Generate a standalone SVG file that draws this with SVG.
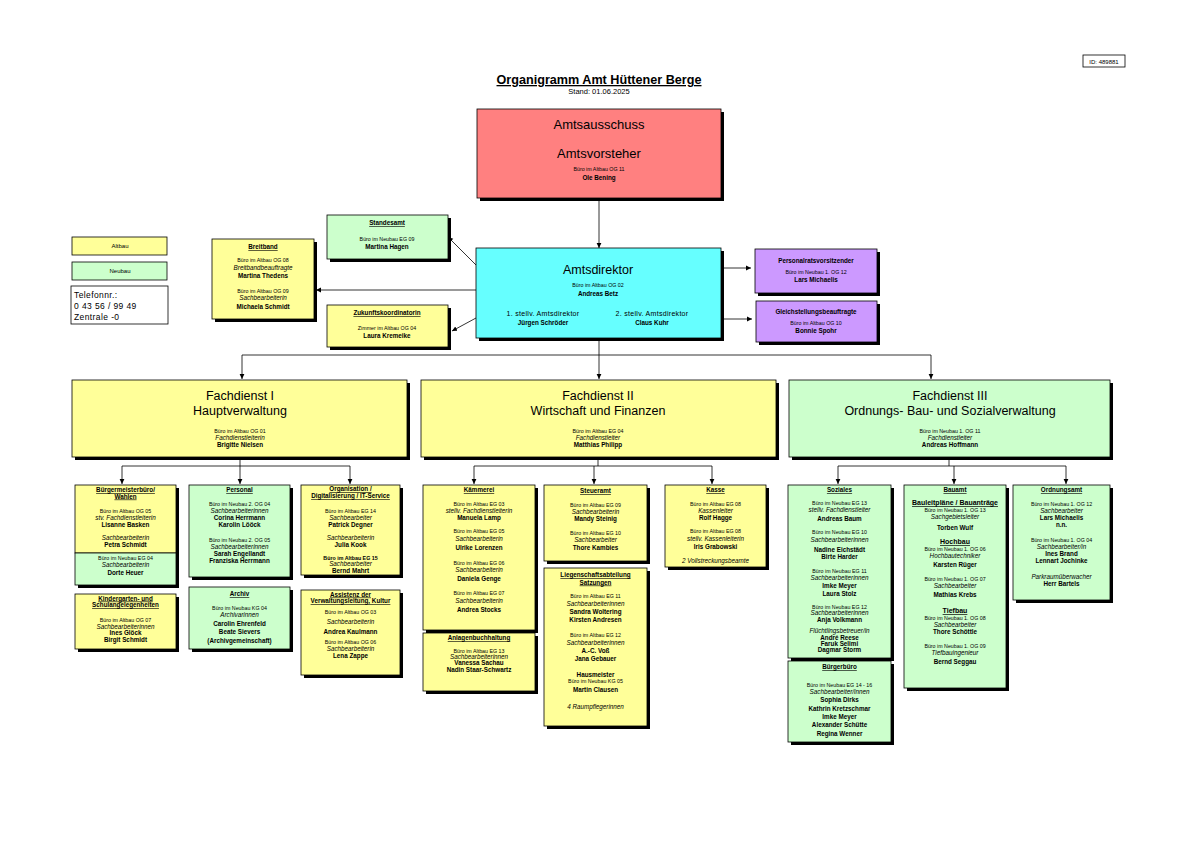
<svg xmlns="http://www.w3.org/2000/svg" width="1191" height="842" viewBox="0 0 1191 842">
<style>
text{font-family:"Liberation Sans",Arial,sans-serif;fill:#000;text-anchor:middle}
.s{font-size:5.3px}
.i{font-size:6.3px;font-style:italic}
.n{font-size:6.3px;font-weight:bold}
.h{font-size:6.3px;font-weight:bold;text-decoration:underline}
.h7{font-size:7px;font-weight:bold;text-decoration:underline}
.big{font-size:13px}
.fd{font-size:12.5px}
.st{font-size:7px;letter-spacing:0.3px}
.tel{font-size:8.5px;letter-spacing:0.4px;text-anchor:start}
.sh{fill:#000}
.bx{stroke:#000;stroke-width:0.8}
.y{fill:#FFFF99}
.g{fill:#CCFFCC}
.c{stroke:#000;stroke-width:0.8;fill:none}
.a{marker-end:url(#ah)}
</style>
<defs>
<marker id="ah" markerWidth="6" markerHeight="6" refX="5" refY="3" orient="auto" markerUnits="userSpaceOnUse"><path d="M0,0.6 L5,3 L0,5.4 z" fill="#000"/></marker>
</defs>
<rect width="1191" height="842" fill="#fff"/>

<g id="header">
<text x="599" y="84" font-size="13" font-weight="bold" text-decoration="underline" textLength="205" lengthAdjust="spacingAndGlyphs">Organigramm Amt Hüttener Berge</text>
<text x="599" y="94" font-size="7.5">Stand: 01.06.2025</text>
<rect x="1083" y="55" width="42" height="12" fill="#fff" stroke="#000" stroke-width="0.8"/>
<text x="1104" y="63.5" font-size="6">ID: 489881</text>
</g>

<g id="legend">
<rect x="72" y="237" width="95" height="18" class="y bx"/>
<text x="120" y="248" font-size="6">Altbau</text>
<rect x="72" y="262" width="95" height="18" class="g bx"/>
<text x="120" y="273" font-size="6">Neubau</text>
<rect x="71" y="286" width="97" height="38" fill="#fff" class="bx"/>
<text x="74" y="298" class="tel">Telefonnr.:</text>
<text x="74" y="309" class="tel">0 43 56 / 99 49</text>
<text x="74" y="320" class="tel">Zentrale -0</text>
</g>

<g id="connectors">
<line x1="599" y1="198" x2="599" y2="248" class="c a"/>
<line x1="721" y1="268" x2="751" y2="268" class="c a"/>
<line x1="721" y1="319" x2="752" y2="319" class="c a"/>
<line x1="476" y1="290" x2="316" y2="290" class="c a"/>
<line x1="476" y1="265" x2="448" y2="237" class="c a"/>
<line x1="476" y1="318" x2="452" y2="331" class="c a"/>
<line x1="599" y1="338" x2="599" y2="355" class="c"/>
<line x1="242" y1="355" x2="931" y2="355" class="c"/>
<line x1="242" y1="355" x2="242" y2="379" class="c a"/>
<line x1="599" y1="355" x2="599" y2="379" class="c a"/>
<line x1="931" y1="355" x2="931" y2="379" class="c a"/>
<line x1="240" y1="457" x2="240" y2="466" class="c"/>
<line x1="122" y1="466" x2="350" y2="466" class="c"/>
<line x1="122" y1="466" x2="122" y2="484" class="c a"/>
<line x1="240" y1="466" x2="240" y2="484" class="c a"/>
<line x1="350" y1="466" x2="350" y2="484" class="c a"/>
<line x1="598" y1="457" x2="598" y2="466" class="c"/>
<line x1="474" y1="466" x2="712" y2="466" class="c"/>
<line x1="474" y1="466" x2="474" y2="484" class="c a"/>
<line x1="594" y1="466" x2="594" y2="484" class="c a"/>
<line x1="712" y1="466" x2="712" y2="484" class="c a"/>
<line x1="949" y1="457" x2="949" y2="466" class="c"/>
<line x1="838" y1="466" x2="1066" y2="466" class="c"/>
<line x1="838" y1="466" x2="838" y2="484" class="c a"/>
<line x1="954" y1="466" x2="954" y2="484" class="c a"/>
<line x1="1066" y1="466" x2="1066" y2="484" class="c a"/>
</g>

<g id="amtsausschuss">
<rect x="480" y="112" width="244" height="89" class="sh"/>
<rect x="477" y="109" width="244" height="89" fill="#FF8080" class="bx"/>
<text x="599" y="129" class="big">Amtsausschuss</text>
<text x="599" y="158" class="big">Amtsvorsteher</text>
<text x="599" y="171" class="s">Büro im Altbau OG 11</text>
<text x="599" y="180" class="n">Ole Bening</text>
</g>

<g id="amtsdirektor">
<rect x="479" y="251" width="245" height="90" class="sh"/>
<rect x="476" y="248" width="245" height="90" fill="#66FFFF" class="bx"/>
<text x="598" y="274" class="fd">Amtsdirektor</text>
<text x="598" y="287" class="s">Büro im Altbau OG 02</text>
<text x="598" y="296" class="n">Andreas Betz</text>
<text x="543" y="316" class="st">1. stellv. Amtsdirektor</text>
<text x="543" y="325" class="n">Jürgen Schröder</text>
<text x="652" y="316" class="st">2. stellv. Amtsdirektor</text>
<text x="652" y="325" class="n">Claus Kuhr</text>
</g>

<g id="standesamt">
<rect x="330" y="218" width="121" height="44" class="sh"/>
<rect x="327" y="215" width="121" height="44" class="g bx"/>
<text x="387" y="225" class="h">Standesamt</text>
<text x="387" y="241" class="s">Büro im Neubau EG 09</text>
<text x="387" y="249" class="n">Martina Hagen</text>
</g>

<g id="breitband">
<rect x="215" y="242" width="102" height="80" class="sh"/>
<rect x="212" y="239" width="102" height="80" class="y bx"/>
<text x="263" y="249" class="h">Breitband</text>
<text x="263" y="262" class="s">Büro im Altbau OG 08</text>
<text x="263" y="270" class="i">Breitbandbeauftragte</text>
<text x="263" y="278" class="n">Martina Thedens</text>
<text x="263" y="293" class="s">Büro im Altbau OG 09</text>
<text x="263" y="300" class="i">Sachbearbeiterin</text>
<text x="263" y="309" class="n">Michaela Schmidt</text>
</g>

<g id="zukunft">
<rect x="330" y="308" width="121" height="42" class="sh"/>
<rect x="327" y="305" width="121" height="42" class="y bx"/>
<text x="387" y="315" class="h">Zukunftskoordinatorin</text>
<text x="387" y="330" class="s">Zimmer im Altbau OG 04</text>
<text x="387" y="338" class="n">Laura Kremeike</text>
</g>

<g id="personalrat">
<rect x="758" y="252" width="122" height="44" class="sh"/>
<rect x="755" y="249" width="122" height="44" fill="#CC99FF" class="bx"/>
<text x="816" y="263" class="n">Personalratsvorsitzender</text>
<text x="816" y="274" class="s">Büro im Neubau 1. OG 12</text>
<text x="816" y="282" class="n">Lars Michaelis</text>
</g>

<g id="gleichstellung">
<rect x="759" y="304" width="121" height="41" class="sh"/>
<rect x="756" y="301" width="121" height="41" fill="#CC99FF" class="bx"/>
<text x="816" y="314" class="n">Gleichstellungsbeauftragte</text>
<text x="816" y="325" class="s">Büro im Altbau OG 10</text>
<text x="816" y="333" class="n">Bonnie Spohr</text>
</g>

<g id="fd1">
<rect x="75" y="383" width="335" height="77" class="sh"/>
<rect x="72" y="380" width="335" height="77" class="y bx"/>
<text x="240" y="400" class="fd">Fachdienst I</text>
<text x="240" y="415" class="fd">Hauptverwaltung</text>
<text x="240" y="433" class="s">Büro im Altbau OG 01</text>
<text x="240" y="439.5" class="i">Fachdienstleiterin</text>
<text x="240" y="447" class="n">Brigitte Nielsen</text>
</g>

<g id="fd2">
<rect x="424" y="383" width="355" height="77" class="sh"/>
<rect x="421" y="380" width="355" height="77" class="y bx"/>
<text x="598" y="400" class="fd">Fachdienst II</text>
<text x="598" y="415" class="fd">Wirtschaft und Finanzen</text>
<text x="598" y="433" class="s">Büro im Altbau EG 04</text>
<text x="598" y="439.5" class="i">Fachdienstleiter</text>
<text x="598" y="447" class="n">Matthias Philipp</text>
</g>

<g id="fd3">
<rect x="792" y="383" width="321" height="77" class="sh"/>
<rect x="789" y="380" width="321" height="77" class="g bx"/>
<text x="950" y="400" class="fd">Fachdienst III</text>
<text x="950" y="415" class="fd">Ordnungs- Bau- und Sozialverwaltung</text>
<text x="950" y="433" class="s">Büro im Neubau 1. OG 11</text>
<text x="950" y="439.5" class="i">Fachdienstleiter</text>
<text x="950" y="447" class="n">Andreas Hoffmann</text>
</g>

<g id="buergermeisterbuero">
<rect x="78" y="488" width="101" height="100" class="sh"/>
<rect x="75" y="485" width="101" height="68" class="y bx"/>
<rect x="75" y="553" width="101" height="32" class="g bx"/>
<text x="125.5" y="492" class="h">Bürgermeisterbüro/</text>
<text x="125.5" y="498.5" class="h">Wahlen</text>
<text x="125.5" y="513" class="s">Büro im Altbau OG 05</text>
<text x="125.5" y="520" class="i">stv. Fachdienstleiterin</text>
<text x="125.5" y="527" class="n">Lisanne Basken</text>
<text x="125.5" y="540" class="i">Sachbearbeiterin</text>
<text x="125.5" y="547" class="n">Petra Schmidt</text>
<text x="125.5" y="560" class="s">Büro im Neubau EG 04</text>
<text x="125.5" y="567" class="i">Sachbearbeiterin</text>
<text x="125.5" y="574.5" class="n">Dorte Heuer</text>
</g>

<g id="kindergarten">
<rect x="78" y="597" width="101" height="55" class="sh"/>
<rect x="75" y="594" width="101" height="55" class="y bx"/>
<text x="125.5" y="600.5" class="h">Kindergarten- und</text>
<text x="125.5" y="607" class="h">Schulangelegenheiten</text>
<text x="125.5" y="622" class="s">Büro im Altbau OG 07</text>
<text x="125.5" y="629" class="i">Sachbearbeiterinnen</text>
<text x="125.5" y="635" class="n">Ines Glöck</text>
<text x="125.5" y="642" class="n">Birgit Schmidt</text>
</g>

<g id="personal">
<rect x="192" y="488" width="101" height="92" class="sh"/>
<rect x="189" y="485" width="101" height="92" class="g bx"/>
<text x="239.5" y="492" class="h">Personal</text>
<text x="239.5" y="506" class="s">Büro im Neubau 2. OG 04</text>
<text x="239.5" y="513" class="i">Sachbearbeiterinnen</text>
<text x="239.5" y="520" class="n">Corina Herrmann</text>
<text x="239.5" y="527" class="n">Karolin Lööck</text>
<text x="239.5" y="542" class="s">Büro im Neubau 2. OG 05</text>
<text x="239.5" y="549" class="i">Sachbearbeiterinnen</text>
<text x="239.5" y="556" class="n">Sarah Engellandt</text>
<text x="239.5" y="563" class="n">Franziska Herrmann</text>
</g>

<g id="archiv">
<rect x="192" y="590" width="101" height="62" class="sh"/>
<rect x="189" y="587" width="101" height="62" class="g bx"/>
<text x="239.5" y="596" class="h">Archiv</text>
<text x="239.5" y="610" class="s">Büro im Neubau KG 04</text>
<text x="239.5" y="617" class="i">Archivarinnen</text>
<text x="239.5" y="626" class="n">Carolin Ehrenfeld</text>
<text x="239.5" y="634" class="n">Beate Sievers</text>
<text x="239.5" y="643" class="n">(Archivgemeinschaft)</text>
</g>

<g id="organisation">
<rect x="304" y="488" width="99" height="90" class="sh"/>
<rect x="301" y="485" width="99" height="90" class="y bx"/>
<text x="350.5" y="491" class="h">Organisation /</text>
<text x="350.5" y="498" class="h">Digitalisierung / IT-Service</text>
<text x="350.5" y="513" class="s">Büro im Altbau EG 14</text>
<text x="350.5" y="520" class="i">Sachbearbeiter</text>
<text x="350.5" y="527" class="n">Patrick Degner</text>
<text x="350.5" y="540" class="i">Sachbearbeiterin</text>
<text x="350.5" y="547" class="n">Julia Kook</text>
<text x="350.5" y="560" class="s" font-weight="bold">Büro im Altbau EG 15</text>
<text x="350.5" y="566" class="i">Sachbearbeiter</text>
<text x="350.5" y="573" class="n">Bernd Mahrt</text>
</g>

<g id="assistenz">
<rect x="304" y="593" width="99" height="85" class="sh"/>
<rect x="301" y="590" width="99" height="85" class="y bx"/>
<text x="350.5" y="596.5" class="h">Assistenz der</text>
<text x="350.5" y="603" class="h">Verwaltungsleitung, Kultur</text>
<text x="350.5" y="614" class="s">Büro im Altbau OG 03</text>
<text x="350.5" y="624" class="i">Sachbearbeiterin</text>
<text x="350.5" y="634" class="n">Andrea Kaulmann</text>
<text x="350.5" y="644" class="s">Büro im Altbau OG 06</text>
<text x="350.5" y="651" class="i">Sachbearbeiterin</text>
<text x="350.5" y="657.5" class="n">Lena Zappe</text>
</g>

<g id="kaemmerei">
<rect x="426" y="488" width="112" height="145" class="sh"/>
<rect x="423" y="485" width="112" height="145" class="y bx"/>
<text x="479" y="492" class="h">Kämmerei</text>
<text x="479" y="506" class="s">Büro im Altbau EG 03</text>
<text x="479" y="512.5" class="i">stellv. Fachdienstleiterin</text>
<text x="479" y="520" class="n">Manuela Lamp</text>
<text x="479" y="533" class="s">Büro im Altbau EG 05</text>
<text x="479" y="541" class="i">Sachbearbeiterin</text>
<text x="479" y="550" class="n">Ulrike Lorenzen</text>
<text x="479" y="565" class="s">Büro im Altbau EG 06</text>
<text x="479" y="572" class="i">Sachbearbeiterin</text>
<text x="479" y="580.5" class="n">Daniela Genge</text>
<text x="479" y="595" class="s">Büro im Altbau EG 07</text>
<text x="479" y="603" class="i">Sachbearbeiterin</text>
<text x="479" y="611.5" class="n">Andrea Stocks</text>
</g>

<g id="anlagenbuchhaltung">
<rect x="426" y="636" width="112" height="58" class="sh"/>
<rect x="423" y="633" width="112" height="58" class="y bx"/>
<text x="479" y="640" class="h">Anlagenbuchhaltung</text>
<text x="479" y="653" class="s">Büro im Altbau EG 13</text>
<text x="479" y="659" class="i">Sachbearbeiterinnen</text>
<text x="479" y="665" class="n">Vanessa Sachau</text>
<text x="479" y="672" class="n">Nadin Staar-Schwartz</text>
</g>

<g id="steueramt">
<rect x="547" y="488" width="103" height="76" class="sh"/>
<rect x="544" y="485" width="103" height="76" class="y bx"/>
<text x="595.5" y="493" class="h">Steueramt</text>
<text x="595.5" y="507" class="s">Büro im Altbau EG 09</text>
<text x="595.5" y="513.5" class="i">Sachbearbeiterin</text>
<text x="595.5" y="521" class="n">Mandy Steinig</text>
<text x="595.5" y="535" class="s">Büro im Altbau EG 10</text>
<text x="595.5" y="542" class="i">Sachbearbeiter</text>
<text x="595.5" y="549.5" class="n">Thore Kambies</text>
</g>

<g id="liegenschaft">
<rect x="547" y="571" width="103" height="158" class="sh"/>
<rect x="544" y="568" width="103" height="158" class="y bx"/>
<text x="595.5" y="577" class="h">Liegenschaftsabteilung</text>
<text x="595.5" y="584.5" class="h">Satzungen</text>
<text x="595.5" y="598" class="s">Büro im Altbau EG 11</text>
<text x="595.5" y="606" class="i">Sachbearbeiterinnen</text>
<text x="595.5" y="614" class="n">Sandra Woltering</text>
<text x="595.5" y="622" class="n">Kirsten Andresen</text>
<text x="595.5" y="637" class="s">Büro im Altbau EG 12</text>
<text x="595.5" y="644.5" class="i">Sachbearbeiterinnen</text>
<text x="595.5" y="653" class="n">A.-C. Voß</text>
<text x="595.5" y="661" class="n">Jana Gebauer</text>
<text x="595.5" y="677" class="n">Hausmeister</text>
<text x="595.5" y="683" class="s">Büro im Neubau KG 05</text>
<text x="595.5" y="692" class="n">Martin Clausen</text>
<text x="595.5" y="709" class="i">4 Raumpflegerinnen</text>
</g>

<g id="kasse">
<rect x="668" y="488" width="101" height="82" class="sh"/>
<rect x="665" y="485" width="101" height="82" class="y bx"/>
<text x="715.5" y="492" class="h">Kasse</text>
<text x="715.5" y="506" class="s">Büro im Altbau EG 08</text>
<text x="715.5" y="512.5" class="i">Kassenleiter</text>
<text x="715.5" y="520" class="n">Rolf Hagge</text>
<text x="715.5" y="533" class="s">Büro im Altbau EG 08</text>
<text x="715.5" y="541" class="i">stellv. Kassenleiterin</text>
<text x="715.5" y="549" class="n">Iris Grabowski</text>
<text x="715.5" y="563" class="i">2 Vollstreckungsbeamte</text>
</g>

<g id="soziales">
<rect x="791" y="488" width="103" height="173" class="sh"/>
<rect x="788" y="485" width="103" height="173" class="g bx"/>
<text x="839.5" y="492" class="h">Soziales</text>
<text x="839.5" y="505" class="s">Büro im Neubau EG 13</text>
<text x="839.5" y="512" class="i">stellv. Fachdienstleiter</text>
<text x="839.5" y="521" class="n">Andreas Baum</text>
<text x="839.5" y="534" class="s">Büro im Neubau EG 10</text>
<text x="839.5" y="542" class="i">Sachbearbeiterinnen</text>
<text x="839.5" y="552" class="n">Nadine Eichstädt</text>
<text x="839.5" y="559" class="n">Birte Harder</text>
<text x="839.5" y="573" class="s">Büro im Neubau EG 11</text>
<text x="839.5" y="580" class="i">Sachbearbeiterinnen</text>
<text x="839.5" y="588" class="n">Imke Meyer</text>
<text x="839.5" y="596" class="n">Laura Stolz</text>
<text x="839.5" y="608.5" class="s">Büro im Neubau EG 12</text>
<text x="839.5" y="615" class="i">Sachbearbeiterinnen</text>
<text x="839.5" y="621.5" class="n">Anja Volkmann</text>
<text x="839.5" y="633" class="i">Flüchtlingsbetreuer/in</text>
<text x="839.5" y="639.5" class="n">André Reese</text>
<text x="839.5" y="645.5" class="n">Faruk Selimi</text>
<text x="839.5" y="652" class="n">Dagmar Storm</text>
</g>

<g id="buergerbuero">
<rect x="791" y="664" width="103" height="81" class="sh"/>
<rect x="788" y="661" width="103" height="81" class="g bx"/>
<text x="839.5" y="669" class="h">Bürgerbüro</text>
<text x="839.5" y="687" class="s">Büro im Neubau EG 14 - 16</text>
<text x="839.5" y="694" class="i">Sachbearbeiter/innen</text>
<text x="839.5" y="702" class="n">Sophia Dirks</text>
<text x="839.5" y="711" class="n">Kathrin Kretzschmar</text>
<text x="839.5" y="719" class="n">Imke Meyer</text>
<text x="839.5" y="727" class="n">Alexander Schütte</text>
<text x="839.5" y="736" class="n">Regina Wenner</text>
</g>

<g id="bauamt">
<rect x="907" y="488" width="102" height="203" class="sh"/>
<rect x="904" y="485" width="102" height="203" class="g bx"/>
<text x="955" y="492" class="h">Bauamt</text>
<text x="955" y="505" class="h7">Bauleitpläne / Bauanträge</text>
<text x="955" y="512" class="s">Büro im Neubau 1. OG 13</text>
<text x="955" y="518.5" class="i">Sachgebietsleiter</text>
<text x="955" y="530" class="n">Torben Wulf</text>
<text x="955" y="544" class="h7">Hochbau</text>
<text x="955" y="551" class="s">Büro im Neubau 1. OG 06</text>
<text x="955" y="558" class="i">Hochbautechniker</text>
<text x="955" y="567" class="n">Karsten Rüger</text>
<text x="955" y="581" class="s">Büro im Neubau 1. OG 07</text>
<text x="955" y="588" class="i">Sachbearbeiter</text>
<text x="955" y="597" class="n">Mathias Krebs</text>
<text x="955" y="613" class="h7">Tiefbau</text>
<text x="955" y="620" class="s">Büro im Neubau 1. OG 08</text>
<text x="955" y="627" class="i">Sachbearbeiter</text>
<text x="955" y="634" class="n">Thore Schöttle</text>
<text x="955" y="648" class="s">Büro im Neubau 1. OG 09</text>
<text x="955" y="655" class="i">Tiefbauingenieur</text>
<text x="955" y="664" class="n">Bernd Seggau</text>
</g>

<g id="ordnungsamt">
<rect x="1016" y="488" width="97" height="115" class="sh"/>
<rect x="1013" y="485" width="97" height="115" class="g bx"/>
<text x="1061.5" y="492" class="h">Ordnungsamt</text>
<text x="1061.5" y="506" class="s">Büro im Neubau 1. OG 12</text>
<text x="1061.5" y="513" class="i">Sachbearbeiter</text>
<text x="1061.5" y="520" class="n">Lars Michaelis</text>
<text x="1061.5" y="527" class="n">n.n.</text>
<text x="1061.5" y="542" class="s">Büro im Neubau 1. OG 04</text>
<text x="1061.5" y="549" class="i">Sachbearbeiter/in</text>
<text x="1061.5" y="556" class="n">Ines Brand</text>
<text x="1061.5" y="563" class="n">Lennart Jochinke</text>
<text x="1061.5" y="579" class="i">Parkraumüberwacher</text>
<text x="1061.5" y="586" class="n">Herr Bartels</text>
</g>
</svg>
